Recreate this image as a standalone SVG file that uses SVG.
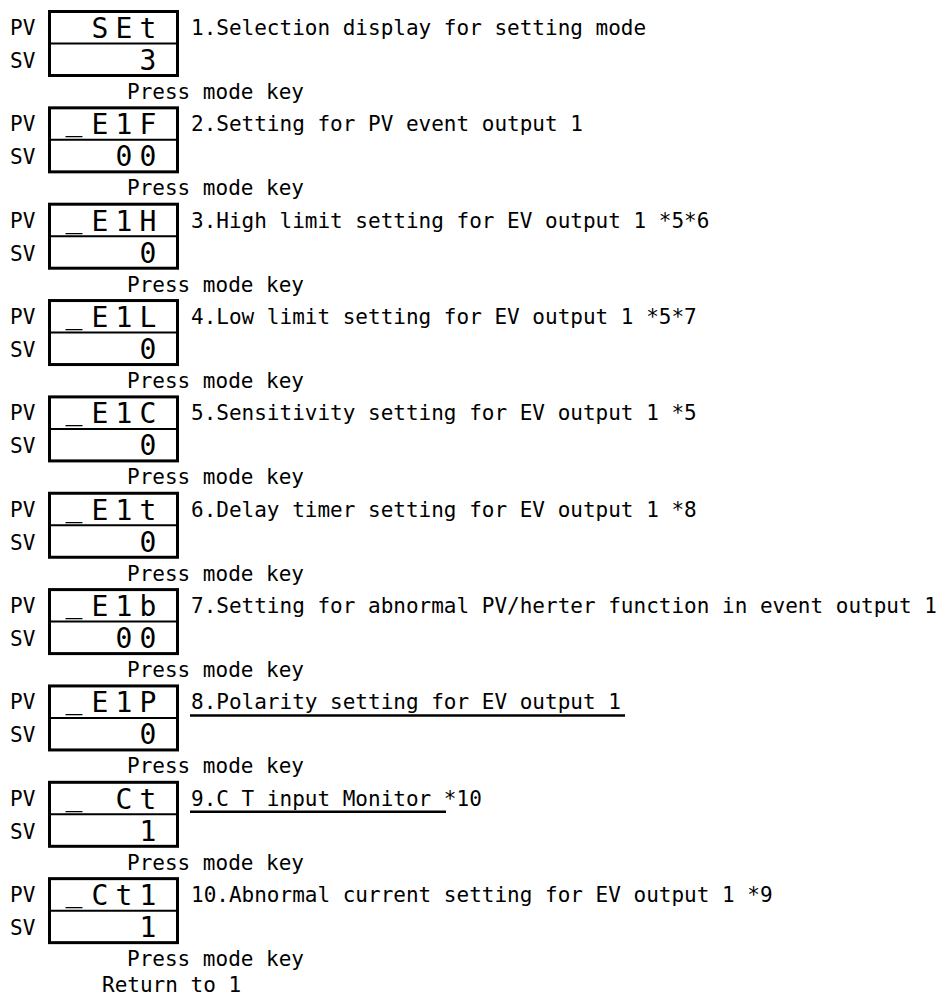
<svg xmlns="http://www.w3.org/2000/svg" width="949" height="999" viewBox="0 0 949 999">
<style>
.t{font-family:"DejaVu Sans Mono","Liberation Mono",monospace;font-size:21px;fill:#000}
.s{font-family:"DejaVu Sans Mono","Liberation Mono",monospace;font-size:28px;fill:#000;text-anchor:middle}
.box{fill:none;stroke:#000;stroke-width:3}
.div{stroke:#000;stroke-width:2}
.ul{stroke:#000;stroke-width:2.5}
</style>
<defs>
<g id="frame">
<rect class="box" x="49.5" y="1.5" width="128" height="64"/>
<line class="div" x1="49" y1="33.5" x2="178" y2="33.5"/>
<text class="t" x="10" y="25">PV</text>
<text class="t" x="10" y="58">SV</text>
<text class="t" x="127" y="89">Press mode key</text>
</g>
</defs>
<rect width="949" height="999" fill="#fff"/>
<g id="step1" transform="translate(0,10)">
<use href="#frame"/>
<text class="s" x="100 124 148" y="28">SEt</text>
<text class="s" x="148" y="60">3</text>
<text class="t" x="191" y="25">1.Selection display for setting mode</text>
</g>
<g id="step2" transform="translate(0,106.35)">
<use href="#frame"/>
<text class="s" x="74 100 124 148" y="24 28 28 28">_E1F</text>
<text class="s" x="124 148" y="60">00</text>
<text class="t" x="191" y="25">2.Setting for PV event output 1</text>
</g>
<g id="step3" transform="translate(0,202.7)">
<use href="#frame"/>
<text class="s" x="74 100 124 148" y="24 28 28 28">_E1H</text>
<text class="s" x="148" y="60">0</text>
<text class="t" x="191" y="25">3.High limit setting for EV output 1 *5*6</text>
</g>
<g id="step4" transform="translate(0,299.05)">
<use href="#frame"/>
<text class="s" x="74 100 124 148" y="24 28 28 28">_E1L</text>
<text class="s" x="148" y="60">0</text>
<text class="t" x="191" y="25">4.Low limit setting for EV output 1 *5*7</text>
</g>
<g id="step5" transform="translate(0,395.4)">
<use href="#frame"/>
<text class="s" x="74 100 124 148" y="24 28 28 28">_E1C</text>
<text class="s" x="148" y="60">0</text>
<text class="t" x="191" y="25">5.Sensitivity setting for EV output 1 *5</text>
</g>
<g id="step6" transform="translate(0,491.75)">
<use href="#frame"/>
<text class="s" x="74 100 124 148" y="24 28 28 28">_E1t</text>
<text class="s" x="148" y="60">0</text>
<text class="t" x="191" y="25">6.Delay timer setting for EV output 1 *8</text>
</g>
<g id="step7" transform="translate(0,588.1)">
<use href="#frame"/>
<text class="s" x="74 100 124 148" y="24 28 28 28">_E1b</text>
<text class="s" x="124 148" y="60">00</text>
<text class="t" x="191" y="25">7.Setting for abnormal PV/herter function in event output 1</text>
</g>
<g id="step8" transform="translate(0,684.45)">
<use href="#frame"/>
<text class="s" x="74 100 124 148" y="24 28 28 28">_E1P</text>
<text class="s" x="148" y="60">0</text>
<text class="t" x="191" y="25">8.Polarity setting for EV output 1</text>
<line class="ul" x1="190" y1="31" x2="625" y2="31"/>
</g>
<g id="step9" transform="translate(0,780.8)">
<use href="#frame"/>
<text class="s" x="74 124 148" y="24 28 28">_Ct</text>
<text class="s" x="148" y="60">1</text>
<text class="t" x="191" y="25">9.C T input Monitor *10</text>
<line class="ul" x1="190" y1="31" x2="446" y2="31"/>
</g>
<g id="step10" transform="translate(0,877.15)">
<use href="#frame"/>
<text class="s" x="74 100 124 148" y="24 28 28 28">_Ct1</text>
<text class="s" x="148" y="60">1</text>
<text class="t" x="191" y="25">10.Abnormal current setting for EV output 1 *9</text>
</g>
<g id="return">
<text class="t" x="102" y="992">Return to 1</text>
</g>
</svg>
